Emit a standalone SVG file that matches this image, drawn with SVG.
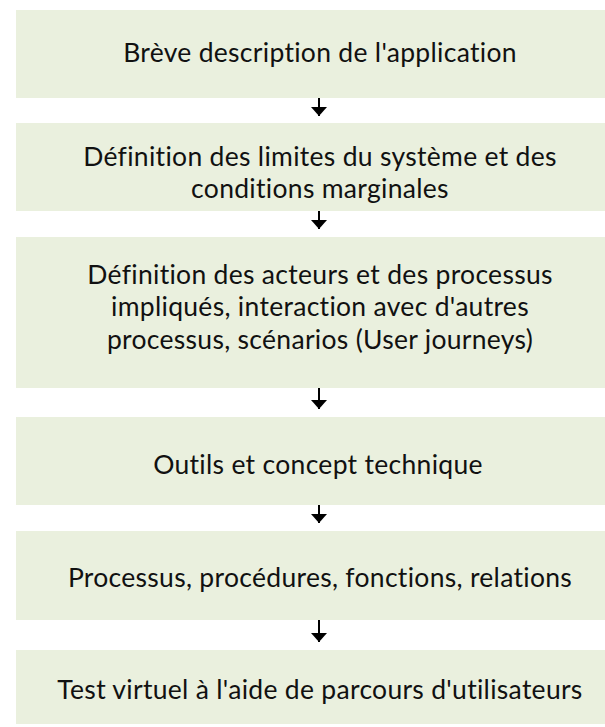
<svg xmlns="http://www.w3.org/2000/svg" width="605" height="727" viewBox="0 0 605 727">
<defs>
<style>
.box{fill:#EAF0DE;}
.t{font-family:Lato,"Open Sans","Liberation Sans",sans-serif;font-size:26.5px;letter-spacing:0.3px;fill:#111;text-anchor:middle;}
.c{stroke:#000;stroke-width:2;fill:none;}
</style>
<marker id="ah" viewBox="0 0 9 16" refX="9" refY="8" markerUnits="userSpaceOnUse" markerWidth="9" markerHeight="16" orient="auto">
<path d="M0,0 L9,8 L0,16 z" fill="#000"/>
</marker>
</defs>
<rect width="605" height="727" fill="#fff"/>
<g id="n1">
<rect class="box" x="16" y="10" width="600" height="88"/>
<text class="t" x="320" y="62">Brève description de l'application</text>
</g>
<g id="n2">
<rect class="box" x="16" y="123" width="600" height="88"/>
<text class="t" x="320" y="166">Définition des limites du système et des</text>
<text class="t" x="320" y="198">conditions marginales</text>
</g>
<g id="n3">
<rect class="box" x="16" y="237" width="600" height="151"/>
<text class="t" x="320" y="284">Définition des acteurs et des processus</text>
<text class="t" x="320" y="316">impliqués, interaction avec d'autres</text>
<text class="t" x="320" y="349">processus, scénarios (User journeys)</text>
</g>
<g id="n4">
<rect class="box" x="16" y="417" width="600" height="88"/>
<text class="t" x="318" y="474">Outils et concept technique</text>
</g>
<g id="n5">
<rect class="box" x="16" y="531" width="600" height="89"/>
<text class="t" x="320" y="587">Processus, procédures, fonctions, relations</text>
</g>
<g id="n6">
<rect class="box" x="16" y="650" width="600" height="74"/>
<text class="t" x="320" y="699">Test virtuel à l'aide de parcours d'utilisateurs</text>
</g>
<g id="connectors">
<line class="c" x1="319" y1="98" x2="319" y2="116" marker-end="url(#ah)"/>
<line class="c" x1="319" y1="211" x2="319" y2="229" marker-end="url(#ah)"/>
<line class="c" x1="319" y1="388" x2="319" y2="409" marker-end="url(#ah)"/>
<line class="c" x1="319" y1="505" x2="319" y2="523" marker-end="url(#ah)"/>
<line class="c" x1="319" y1="620" x2="319" y2="642" marker-end="url(#ah)"/>
</g>
</svg>
